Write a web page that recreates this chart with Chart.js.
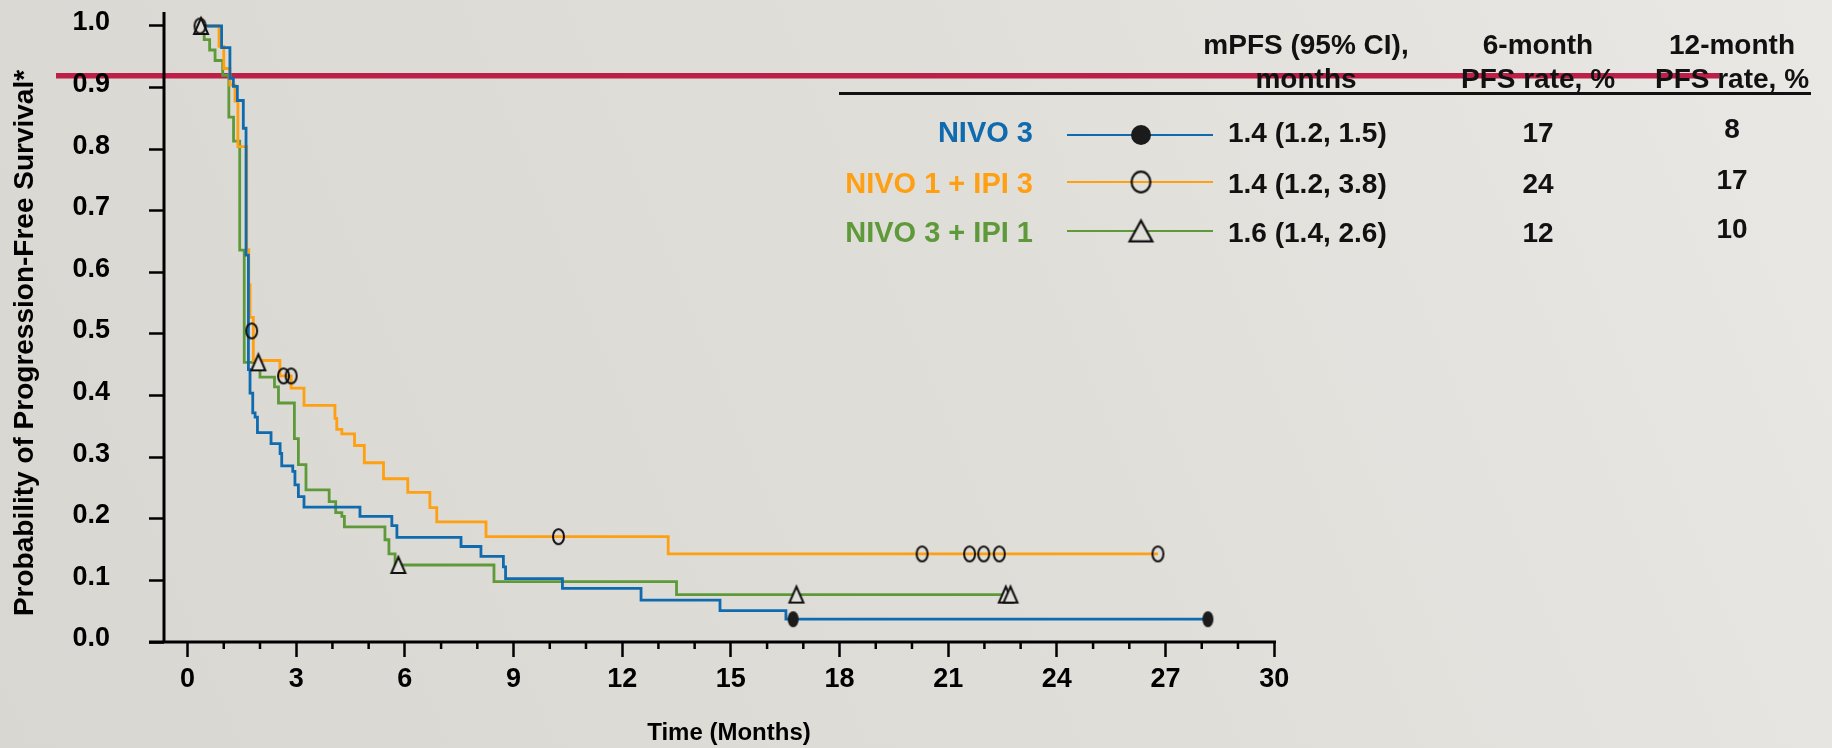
<!DOCTYPE html>
<html>
<head>
<meta charset="utf-8">
<script src="https://cdn.jsdelivr.net/npm/chart.js@4.4.1/dist/chart.umd.min.js"></script>
<style>
  html, body { margin: 0; padding: 0; background: #e0ded9; overflow: hidden; }
  canvas { display: block; }
</style>
</head>
<body>
<canvas id="km" width="1832" height="748"></canvas>
<script>
// Kaplan–Meier progression-free survival by treatment arm.
// Each curve: time of each step (months) and survival after that step.

const xTickValues = [0, 3, 6, 9, 12, 15, 18, 21, 24, 27, 30];
const yTickValues = [0.0, 0.1, 0.2, 0.3, 0.4, 0.5, 0.6, 0.7, 0.8, 0.9, 1.0];

const nivo3Time = [0.35, 0.94, 1.17, 1.265, 1.375, 1.54, 1.615, 1.68, 1.725, 1.80, 1.865, 1.93, 2.305, 2.555, 2.60, 2.905, 2.965, 3.06, 3.215, 4.76, 5.64, 5.78, 7.55, 8.10, 8.72, 8.78, 10.35, 12.52, 14.70, 16.52, 28.17];
const nivo3Surv = [1.000, 0.965, 0.915, 0.902, 0.879, 0.834, 0.628, 0.442, 0.404, 0.372, 0.365, 0.340, 0.322, 0.306, 0.286, 0.277, 0.255, 0.236, 0.219, 0.204, 0.189, 0.170, 0.155, 0.139, 0.122, 0.103, 0.087, 0.068, 0.051, 0.037, 0.037];

const nivo1Ipi3Time = [0.35, 0.87, 1.00, 1.17, 1.31, 1.39, 1.633, 1.69, 1.725, 1.817, 2.55, 2.86, 3.215, 4.07, 4.12, 4.26, 4.61, 4.88, 5.41, 6.08, 6.69, 6.88, 8.24, 13.27, 26.79];
const nivo1Ipi3Surv = [1.000, 0.967, 0.931, 0.904, 0.878, 0.804, 0.637, 0.580, 0.527, 0.457, 0.432, 0.412, 0.384, 0.363, 0.345, 0.338, 0.319, 0.291, 0.265, 0.243, 0.218, 0.195, 0.171, 0.143, 0.143];

const nivo3Ipi1Time = [0.35, 0.46, 0.61, 0.76, 0.97, 1.14, 1.27, 1.44, 1.565, 2.00, 2.40, 2.51, 2.95, 3.06, 3.27, 3.91, 4.09, 4.26, 4.33, 5.45, 5.56, 5.73, 8.46, 13.50, 22.59];
const nivo3Ipi1Surv = [1.000, 0.978, 0.961, 0.944, 0.920, 0.852, 0.813, 0.636, 0.454, 0.430, 0.414, 0.388, 0.330, 0.288, 0.247, 0.228, 0.210, 0.204, 0.187, 0.166, 0.143, 0.125, 0.098, 0.077, 0.077];

// Censored observations
const nivo3CensorTime = [16.72, 28.17];
const nivo3CensorSurv = [0.037, 0.037];
const nivo1Ipi3CensorTime = [0.345, 1.77, 2.65, 2.86, 10.24, 20.28, 21.59, 21.98, 22.41, 26.79];
const nivo1Ipi3CensorSurv = [1.000, 0.505, 0.432, 0.432, 0.171, 0.143, 0.143, 0.143, 0.143, 0.143];
const nivo3Ipi1CensorTime = [0.373, 1.955, 5.82, 16.81, 22.59, 22.72];
const nivo3Ipi1CensorSurv = [1.000, 0.454, 0.125, 0.077, 0.077, 0.077];

// Summary table
const armNames = ['NIVO 3', 'NIVO 1 + IPI 3', 'NIVO 3 + IPI 1'];
const medianPFS = ['1.4 (1.2, 1.5)', '1.4 (1.2, 3.8)', '1.6 (1.4, 2.6)'];
const sixMonthRate = ['17', '24', '12'];
const twelveMonthRate = ['8', '17', '10'];
const tableHeaders = [['mPFS (95% CI),', 'months'], ['6-month', 'PFS rate, %'], ['12-month', 'PFS rate, %']];

const yTitle = 'Probability of Progression-Free Survival*';
const xTitle = 'Time (Months)';

const armColors = ['#0F6BAE', '#FF9F12', '#5E9A3A'];
const FONT = '"Liberation Sans", Arial, sans-serif';

function pairUp(ts, ss) { return ts.map((t, i) => ({ x: t, y: ss[i] })); }

// Marker images
function ellipseMarker(w, h, fill, lw) {
  const pad = 2, c = document.createElement('canvas');
  c.width = w + pad * 2; c.height = h + pad * 2;
  const g = c.getContext('2d');
  g.beginPath();
  if (fill) {
    g.ellipse(c.width / 2, c.height / 2, w / 2, h / 2, 0, 0, Math.PI * 2);
    g.fillStyle = fill; g.fill();
  } else {
    g.ellipse(c.width / 2, c.height / 2, (w - lw) / 2, (h - lw) / 2, 0, 0, Math.PI * 2);
    g.lineWidth = lw; g.strokeStyle = '#111'; g.stroke();
  }
  return c;
}
function triangleMarker(w, h, lw) {
  const pad = 2, c = document.createElement('canvas');
  c.width = w + pad * 2; c.height = h + pad * 2;
  const g = c.getContext('2d');
  g.beginPath();
  g.moveTo(c.width / 2, pad + lw / 2);
  g.lineTo(pad + w - lw / 2, pad + h - lw / 2);
  g.lineTo(pad + lw / 2, pad + h - lw / 2);
  g.closePath();
  g.fillStyle = '#E1DFDA'; g.fill();
  g.lineWidth = lw; g.strokeStyle = '#111'; g.lineJoin = 'miter'; g.stroke();
  return c;
}

const plotMarkers = [ellipseMarker(11, 16, '#1b1b1b'), ellipseMarker(13, 17, null, 2), triangleMarker(16, 18, 2)];
const legendMarkers = [ellipseMarker(20, 20, '#1b1b1b'), ellipseMarker(21, 23, null, 2.2), triangleMarker(25, 23, 2.2)];

const curveSets = [
  [nivo3Time, nivo3Surv], [nivo1Ipi3Time, nivo1Ipi3Surv], [nivo3Ipi1Time, nivo3Ipi1Surv]
];
const censorSets = [
  [nivo3CensorTime, nivo3CensorSurv], [nivo1Ipi3CensorTime, nivo1Ipi3CensorSurv], [nivo3Ipi1CensorTime, nivo3Ipi1CensorSurv]
];

const datasets = [];
curveSets.forEach(([t, s], i) => datasets.push({
  label: armNames[i], data: pairUp(t, s), stepped: true, borderColor: armColors[i],
  borderWidth: 2.8, pointRadius: 0, fill: false, order: 1, clip: false
}));
censorSets.forEach(([t, s], i) => datasets.push({
  label: armNames[i] + ' censored', data: pairUp(t, s), showLine: false,
  pointStyle: plotMarkers[i], pointRadius: 8, order: 0, clip: false
}));

const decor = {
  id: 'decor',
  beforeDraw(chart) {
    const { ctx, width, height } = chart;
    ctx.save();
    const g = ctx.createLinearGradient(0, height, width, 0);
    g.addColorStop(0, '#D9D7D2');
    g.addColorStop(0.55, '#E0DED9');
    g.addColorStop(1, '#E9E8E4');
    ctx.fillStyle = g;
    ctx.fillRect(0, 0, width, height);
    // slide accent rule
    ctx.fillStyle = '#BC1F47';
    ctx.fillRect(56, 73, 1663, 5.5);
    ctx.restore();
  },
  beforeDatasetsDraw(chart) {
    const { ctx, chartArea: { left, right, top, bottom }, scales: { x } } = chart;
    ctx.save();
    ctx.strokeStyle = '#000';
    ctx.lineWidth = 3;
    ctx.beginPath();
    ctx.moveTo(left - 15, bottom); ctx.lineTo(right, bottom);
    ctx.moveTo(left, top); ctx.lineTo(left, bottom + 1.5);
    ctx.stroke();
    // monthly minor ticks
    ctx.lineWidth = 2.5;
    ctx.beginPath();
    for (let m = xTickValues[0]; m <= xTickValues[xTickValues.length - 1]; m++) {
      if (xTickValues.includes(m)) continue;
      const px = x.getPixelForValue(m);
      ctx.moveTo(px, bottom); ctx.lineTo(px, bottom + 7);
    }
    ctx.stroke();
    ctx.restore();
  },
  afterDraw(chart) {
    const { ctx } = chart;
    ctx.save();
    // axis titles
    ctx.fillStyle = '#000';
    ctx.font = 'bold 28px ' + FONT;
    ctx.textAlign = 'center';
    ctx.textBaseline = 'alphabetic';
    ctx.translate(33, 343);
    ctx.rotate(-Math.PI / 2);
    ctx.fillText(yTitle, 0, 0);
    ctx.setTransform(1, 0, 0, 1, 0, 0);
    ctx.font = 'bold 24px ' + FONT;
    ctx.textBaseline = 'middle';
    ctx.fillText(xTitle, 729, 733);

    // summary table
    ctx.textBaseline = 'alphabetic';
    ctx.font = 'bold 28px ' + FONT;
    ctx.fillStyle = '#111';
    const colX = [1306, 1538, 1732];
    tableHeaders.forEach((lines, c) => {
      ctx.fillText(lines[0], colX[c], 54);
      ctx.fillText(lines[1], colX[c], 88);
    });
    ctx.fillRect(839, 92, 972, 3);

    const baseY = [142, 193, 242];
    const lineY = [135, 182, 231];
    armNames.forEach((name, r) => {
      ctx.font = 'bold 29px ' + FONT;
      ctx.textAlign = 'right';
      ctx.fillStyle = armColors[r];
      ctx.fillText(name, 1033, baseY[r]);
      ctx.strokeStyle = armColors[r];
      ctx.lineWidth = 2.2;
      ctx.beginPath();
      ctx.moveTo(1067, lineY[r]); ctx.lineTo(1213, lineY[r]);
      ctx.stroke();
      const m = legendMarkers[r];
      ctx.drawImage(m, 1141 - m.width / 2, lineY[r] - m.height / 2);
      ctx.fillStyle = '#111';
      ctx.font = 'bold 28px ' + FONT;
      ctx.textAlign = 'left';
      ctx.fillText(medianPFS[r], 1228, baseY[r]);
      ctx.textAlign = 'center';
      ctx.fillText(sixMonthRate[r], colX[1], baseY[r]);
      ctx.fillText(twelveMonthRate[r], colX[2], baseY[r] - 4);
    });
    ctx.restore();
  }
};

new Chart(document.getElementById('km'), {
  type: 'line',
  data: { datasets },
  options: {
    responsive: false,
    animation: false,
    devicePixelRatio: 1,
    events: [],
    layout: { padding: { left: 0, top: 12, right: 556, bottom: 0 } },
    plugins: { legend: { display: false }, tooltip: { enabled: false } },
    scales: {
      x: {
        type: 'linear', min: -0.65, max: 30.05,
        afterBuildTicks: s => { s.ticks = xTickValues.map(v => ({ value: v })); },
        afterFit: s => { s.height = 106; s.paddingLeft = 0; s.paddingRight = 0; },
        border: { display: false },
        grid: { drawOnChartArea: false, drawTicks: true, tickLength: 15, tickWidth: 2.5, tickColor: '#000' },
        ticks: { color: '#000', padding: 6, maxRotation: 0, autoSkip: false,
                 font: { family: FONT, size: 27, weight: 'bold' } }
      },
      y: {
        type: 'linear', min: 0, max: 1.0227,
        afterBuildTicks: s => { s.ticks = yTickValues.map(v => ({ value: v })); },
        afterFit: s => { s.width = 164; s.paddingTop = 0; s.paddingBottom = 0; },
        border: { display: false },
        grid: { drawOnChartArea: false, drawTicks: true, tickLength: 15, tickWidth: 2.5, tickColor: '#000' },
        ticks: { color: '#000', padding: 39, labelOffset: -3, autoSkip: false,
                 callback: v => v.toFixed(1),
                 font: { family: FONT, size: 27, weight: 'bold' } }
      }
    }
  },
  plugins: [decor]
});
</script>
</body>
</html>
